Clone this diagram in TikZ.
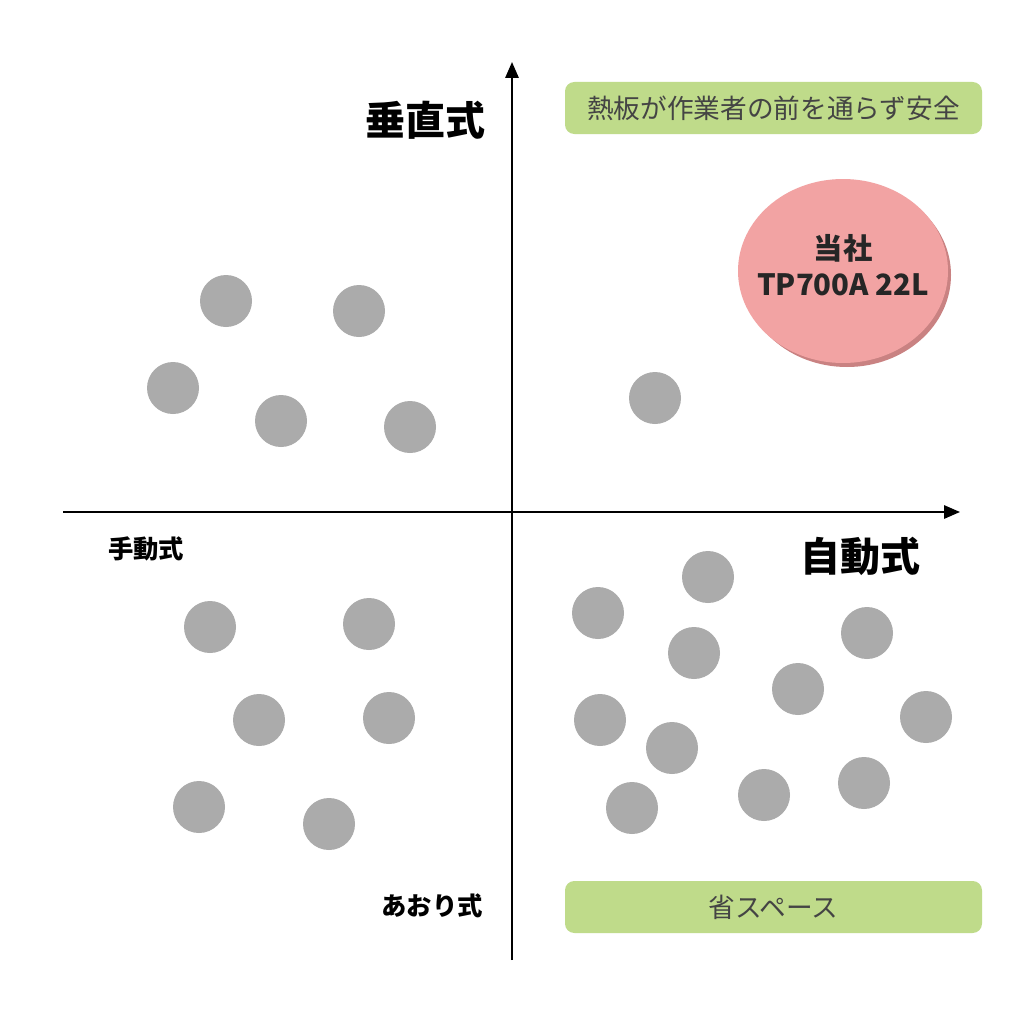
\documentclass[tikz,border=0pt]{standalone}
\usepackage{fontspec}
\setmainfont{Noto Sans CJK JP}
\usetikzlibrary{arrows.meta}
\definecolor{dot}{HTML}{ABABAB}
\definecolor{grn}{HTML}{BFDB8A}
\definecolor{pnk}{HTML}{F2A3A3}
\definecolor{pnkd}{HTML}{C98282}
\definecolor{txt}{HTML}{444444}
\begin{document}
\begin{tikzpicture}[x=0.75pt,y=-0.75pt,
  dotc/.style={circle,fill=dot,minimum size=52*0.75pt,inner sep=0pt},
  gbox/.style={fill=grn,rounded corners=7pt,minimum width=417*0.75pt,minimum height=52*0.75pt,text=txt,font=\fontsize{20}{22}\selectfont},
  ax/.style={line width=1.5pt,-{Triangle[length=12pt,width=10pt]}}]
\useasboundingbox[fill=white] (0,0) rectangle (1024,1024);
\coordinate (vb) at (512,960); \coordinate (vt) at (512,62);
\coordinate (hl) at (63,512); \coordinate (hr) at (960,512);
\draw[ax] (vb) -- (vt);
\draw[ax] (hl) -- (hr);
\node[font=\fontsize{30}{32}\selectfont\bfseries] (l1) at (425,120) {垂直式};
\node[font=\fontsize{30}{32}\selectfont\bfseries] (l2) at (860,556) {自動式};
\node[font=\fontsize{19}{22}\selectfont\bfseries] (l3) at (146,549) {手動式};
\node[font=\fontsize{19}{22}\selectfont\bfseries] (l4) at (432,906) {あおり式};
\node[gbox] (g1) at (773.5,108) {熱板が作業者の前を通らず安全};
\node[gbox] (g2) at (773.5,907) {省スペース};
\fill[pnkd] (847,275) ellipse [x radius=104, y radius=92];
\fill[pnk] (843,271) ellipse [x radius=105, y radius=92];
\node[align=center,font=\fontsize{22}{27}\selectfont\bfseries,text=black!85] (p) at (843,265) {当社\\TP700A 22L};
\foreach \i/\x/\y in {a/226/301,b/359/311,c/173/388,d/281/421,e/410/427,f/655/398,
 g/210/627,h/369/624,i/259/720,j/389/718,k/199/807,l/329/824,
 m/708/577,n/598/613,o/694/653,p2/867/633,q/798/689,r/600/720,s/926/717,t/672/748,u/632/808,v/764/795,w/864/783}
 \node[dotc] (\i) at (\x,\y) {};
\end{tikzpicture}
\end{document}
